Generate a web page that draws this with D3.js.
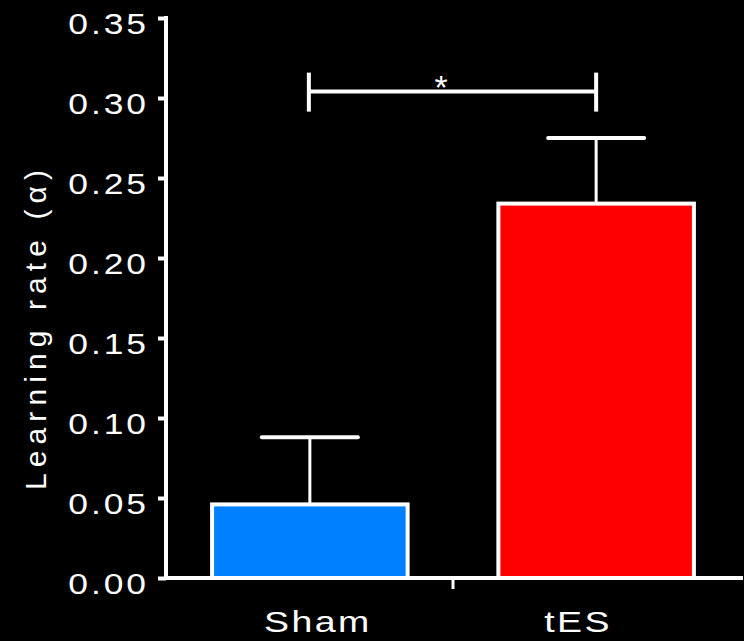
<!DOCTYPE html>
<html>
<head>
<meta charset="utf-8">
<script src="https://cdn.jsdelivr.net/npm/d3@7"></script>
<style>
html,body{margin:0;padding:0;background:#000;}
svg{display:block;}
text{font-family:"Liberation Sans",Arial,Helvetica,sans-serif;fill:#fff;}
</style>
</head>
<body>
<svg id="chart" width="744" height="641"></svg>
<script>
const categories = ["Sham", "tES"];
const means = [0.046, 0.234];
const errors = [0.042, 0.041];
const barColors = ["#0080FF", "#FF0000"];
const yTicks = [0, 0.05, 0.10, 0.15, 0.20, 0.25, 0.30, 0.35];
const yLabel = "Learning rate (\u03B1)";
const sigLevel = 0.304;
const sigText = "*";

const svg = d3.select("#chart");
svg.append("rect").attr("width",744).attr("height",641).attr("fill","#000");

const y = d3.scaleLinear().domain([0, 0.35]).range([578, 18]);
const x = d3.scaleBand().domain(categories).range([166, 740]).paddingInner(0.317).paddingOuter(0.161);
const bw = x.bandwidth();

// bars
svg.selectAll("rect.bar").data(categories).enter().append("rect")
  .attr("class","bar")
  .attr("x", d => x(d))
  .attr("y", (d,i) => y(means[i]))
  .attr("width", bw)
  .attr("height", (d,i) => y(0) - y(means[i]))
  .attr("fill", (d,i) => barColors[i])
  .attr("stroke","#fff").attr("stroke-width",4);

// error bars
const capHalf = 48;
categories.forEach((c,i) => {
  const cx = x(c) + bw/2;
  svg.append("line").attr("x1",cx).attr("x2",cx)
    .attr("y1", y(means[i])).attr("y2", y(means[i]+errors[i]))
    .attr("stroke","#fff").attr("stroke-width",3);
  svg.append("line").attr("x1",cx-capHalf).attr("x2",cx+capHalf)
    .attr("y1", y(means[i]+errors[i])).attr("y2", y(means[i]+errors[i]))
    .attr("stroke","#fff").attr("stroke-width",4).attr("stroke-linecap","round");
});

// y axis
const yAxis = d3.axisLeft(y).tickValues(yTicks).tickSize(8).tickFormat(d3.format(".2f"));
const ga = svg.append("g").attr("transform","translate(166,0)").call(yAxis);
ga.select(".domain").remove();
ga.selectAll(".tick line").attr("stroke","#fff").attr("stroke-width",4);
ga.selectAll(".tick text").remove();
svg.append("line").attr("x1",166).attr("x2",166).attr("y1",y(0.35)-2).attr("y2",y(0)+2)
  .attr("stroke","#fff").attr("stroke-width",4);
ga.selectAll(".tick").each(function(d){
  d3.select(this).append("text")
    .attr("transform", "translate(-17,15) scale(1.18,1)")
    .attr("text-anchor","end")
    .style("font-size","30px")
    .style("letter-spacing","2.5px")
    .style("fill","#fff")
    .text(d3.format(".2f")(d));
});

// x axis
svg.append("line").attr("x1",164).attr("x2",743).attr("y1",y(0)).attr("y2",y(0))
  .attr("stroke","#fff").attr("stroke-width",4);
const midX = (x(categories[0]) + bw + x(categories[1])) / 2;
svg.append("line").attr("x1",midX).attr("x2",midX).attr("y1",y(0)).attr("y2",y(0)+11)
  .attr("stroke","#fff").attr("stroke-width",3);

// x labels
const labelOffsets = [8, -18];
categories.forEach((c,i) => {
  svg.append("text")
    .attr("transform", `translate(${x(c)+bw/2+labelOffsets[i]},632) scale(1.25,1)`)
    .attr("text-anchor","middle")
    .style("font-size","30px")
    .style("letter-spacing","2px")
    .text(c);
});

// y label
svg.append("text")
  .attr("transform","translate(46,330) rotate(-90)")
  .attr("text-anchor","middle")
  .attr("textLength",320)
  .attr("lengthAdjust","spacing")
  .style("font-size","30px")
  .text(yLabel);

// significance bracket
const x1 = x(categories[0]) + bw/2 - 1, x2 = x(categories[1]) + bw/2;
const ys = y(sigLevel);
svg.append("line").attr("x1",x1).attr("x2",x2).attr("y1",ys).attr("y2",ys)
  .attr("stroke","#fff").attr("stroke-width",4);
[x1,x2].forEach(xx => {
  svg.append("line").attr("x1",xx).attr("x2",xx).attr("y1",ys-19).attr("y2",ys+20)
    .attr("stroke","#fff").attr("stroke-width",4);
});
svg.append("text").attr("x",441).attr("y",ys+7)
  .attr("text-anchor","middle").style("font-size","34px").text(sigText);
</script>
</body>
</html>
